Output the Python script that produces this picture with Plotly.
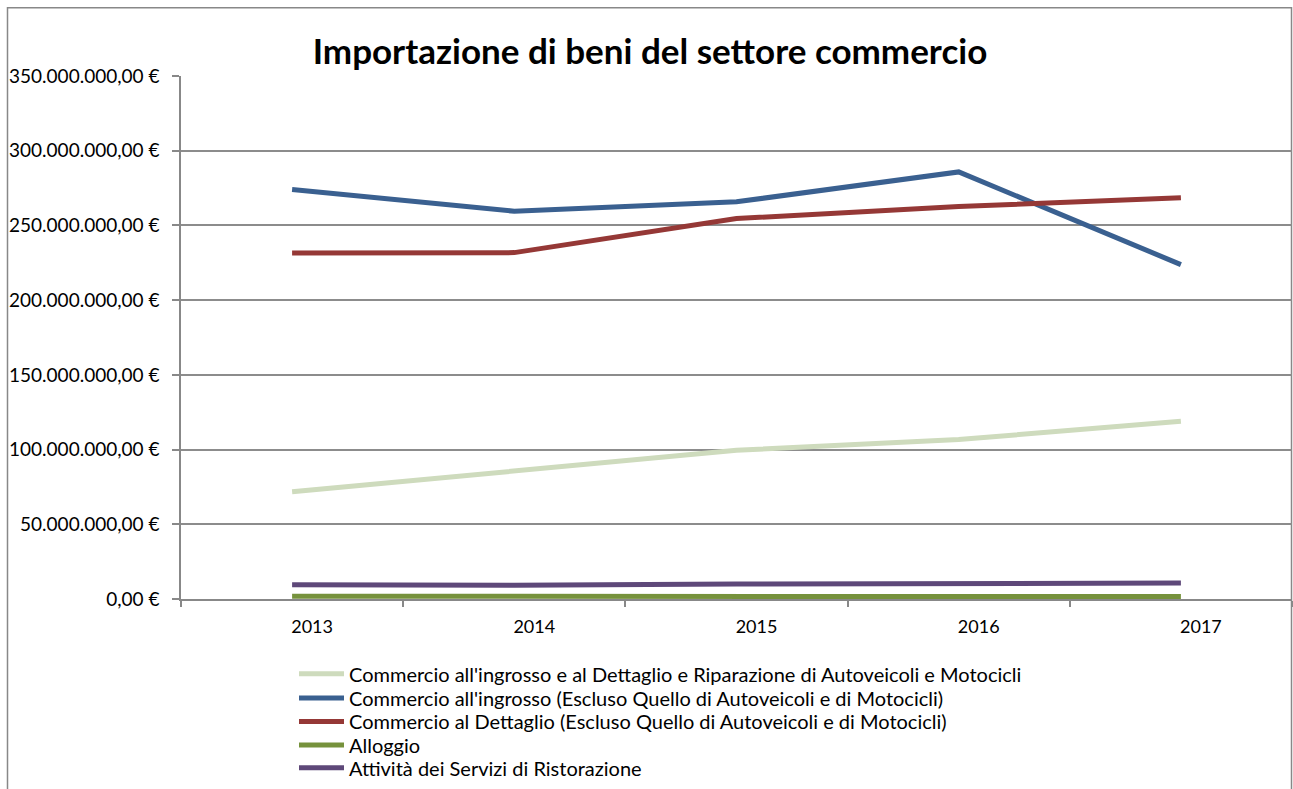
import plotly.graph_objects as go

years = ["2013", "2014", "2015", "2016", "2017"]
series_names = [
    "Commercio all'ingrosso e al Dettaglio e Riparazione di Autoveicoli e Motocicli",
    "Commercio all'ingrosso (Escluso Quello di Autoveicoli e di Motocicli)",
    "Commercio al Dettaglio (Escluso Quello di Autoveicoli e di Motocicli)",
    "Alloggio",
    "Attività dei Servizi di Ristorazione",
]
ingrosso_dettaglio = [71.8e6, 85.5e6, 99.5e6, 106.7e6, 118.9e6]
ingrosso = [274.0e6, 259.5e6, 265.8e6, 285.8e6, 223.8e6]
dettaglio = [231.6e6, 231.8e6, 254.6e6, 262.6e6, 268.6e6]
alloggio = [1.8e6, 1.7e6, 1.7e6, 1.7e6, 1.7e6]
ristorazione = [9.6e6, 9.2e6, 10.0e6, 10.4e6, 10.7e6]

ytick_vals = [0, 50e6, 100e6, 150e6, 200e6, 250e6, 300e6, 350e6]
ytick_text = ["0,00 €", "50.000.000,00 €", "100.000.000,00 €", "150.000.000,00 €",
              "200.000.000,00 €", "250.000.000,00 €", "300.000.000,00 €", "350.000.000,00 €"]

colors = ["#CEDBBD", "#3A6090", "#953836", "#76923C", "#5E4879"]
all_series = [ingrosso_dettaglio, ingrosso, dettaglio, alloggio, ristorazione]

W, H = 1293, 789
L, R, T, B = 181, 1, 76, 188
pw = W - L - R
ph = H - T - B


def px_x(p):
    return (p - L) / pw


def px_y(p):
    return (H - B - p) / ph


legend_ids = ["legend", "legend2", "legend3", "legend4", "legend5"]
legend_rows = [676, 700.5, 724, 747.5, 770.5]

fig = go.Figure()
for name, vals, col, lid in zip(series_names, all_series, colors, legend_ids):
    fig.add_trace(go.Scatter(x=years, y=vals, name=name, mode="lines",
                             line=dict(color=col, width=5), legend=lid))

layout_legends = {}
for lid, row in zip(legend_ids, legend_rows):
    layout_legends[lid] = dict(x=px_x(294), y=px_y(row), xanchor="left",
                               yanchor="middle", font=dict(size=20, color="#000000"),
                               bgcolor="rgba(0,0,0,0)", itemwidth=45,
                               borderwidth=0)

fig.update_layout(
    width=W, height=H,
    margin=dict(l=L, r=R, t=T, b=B),
    paper_bgcolor="white", plot_bgcolor="white",
    font=dict(family="Lato, Open Sans, sans-serif", size=18, color="#000000"),
    title=dict(text="<b>Importazione di beni del settore commercio</b>",
               x=650 / W, xanchor="center", y=1 - 52 / H, yanchor="middle",
               font=dict(size=35, color="#000000")),
    showlegend=True,
    xaxis=dict(type="category", range=[-0.5, 4.5], showgrid=False,
               showline=True, linecolor="#888888", linewidth=1.5,
               ticks="outside", tickson="boundaries", ticklen=6,
               tickcolor="#888888", tickwidth=1.5,
               tickfont=dict(size=18), ticklabelshift=20, ticklabelstandoff=11,
               fixedrange=True),
    yaxis=dict(range=[0, 350e6], tickvals=ytick_vals, ticktext=ytick_text,
               showgrid=True, gridcolor="#8c8c8c", gridwidth=1.5,
               showline=True, linecolor="#888888", linewidth=1.5,
               ticks="outside", ticklen=7, tickcolor="#888888", tickwidth=1.5,
               tickfont=dict(size=19), ticklabelstandoff=9,
               zeroline=False, fixedrange=True),
    **layout_legends,
)

fig.add_shape(type="rect", xref="paper", yref="paper",
              x0=px_x(7.5), x1=px_x(1291.5), y0=px_y(820), y1=px_y(7.5),
              line=dict(color="#888888", width=1.5), fillcolor="rgba(0,0,0,0)",
              layer="below")

fig.write_html(
    "out.html",
    config={"displayModeBar": False},
    post_script=(
        "document.body.style.margin='0';"
        "document.body.style.overflow='hidden';"
        "document.documentElement.style.overflow='hidden';"
    ),
)
